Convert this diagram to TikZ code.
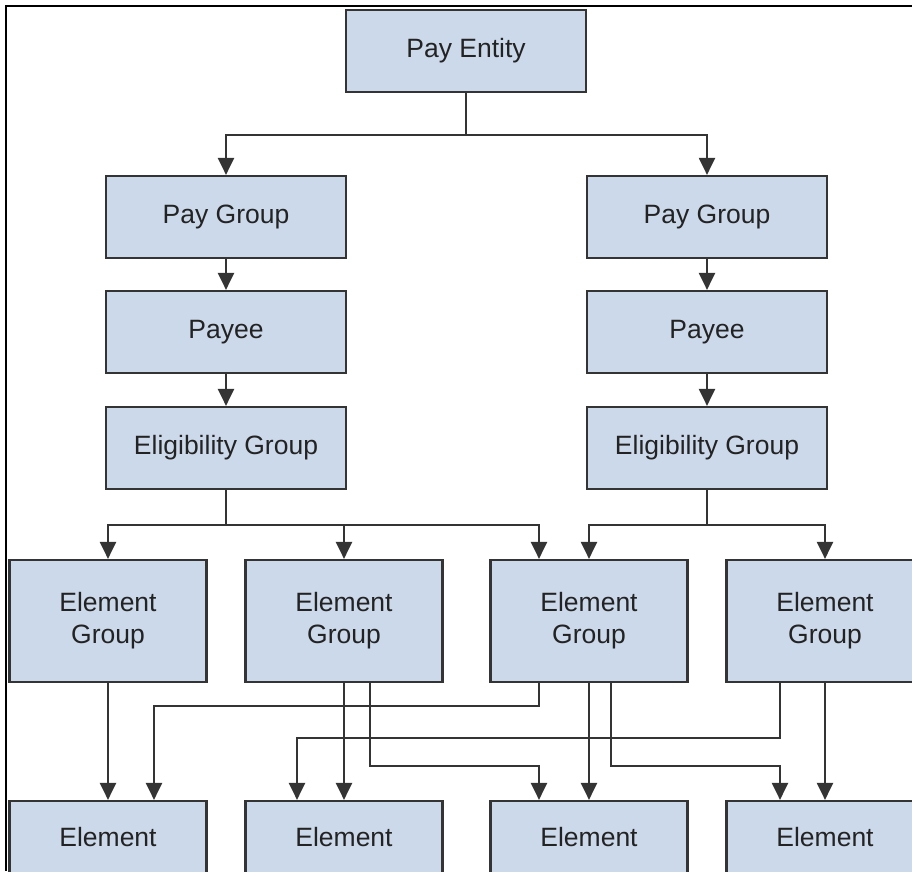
\documentclass[tikz,border=0pt]{standalone}
\usepackage{fontspec}
\setmainfont{Liberation Sans}
\usepackage{tikz}
\usetikzlibrary{arrows.meta, positioning, calc}

\definecolor{boxfill}{RGB}{204,217,234}
\definecolor{boxline}{RGB}{52,52,52}
\definecolor{textgray}{RGB}{35,35,35}

\begin{document}
\begin{tikzpicture}[
    x=1pt, y=-1pt,
    >={Triangle[length=17pt, width=16pt]},
    boxnode/.style={draw=boxline, line width=2.2pt, fill=boxfill, rectangle, text=textgray, font=\fontsize{26.5}{32}\selectfont, align=center, minimum width=240pt, minimum height=82pt, inner sep=0pt},
    elemnode/.style={boxnode, minimum width=197pt, minimum height=122pt},
    leafnode/.style={boxnode, minimum width=197pt, minimum height=72pt},
    flow/.style={->, line width=2.2pt, boxline},
    frameline/.style={line width=1.2pt, black}
]
    \useasboundingbox (0,0) rectangle (912,871);
    \draw[frameline] (6,871) -- (6,6) -- (912,6);

    \node[boxnode]  (PE)    at (466,51)    {Pay Entity};
    \node[boxnode]  (PG1)   at (226,217)   {Pay Group};
    \node[boxnode]  (PG2)   at (707,217)   {Pay Group};
    \node[boxnode]  (PY1)   at (226,332)   {Payee};
    \node[boxnode]  (PY2)   at (707,332)   {Payee};
    \node[boxnode]  (EL1)   at (226,448)   {Eligibility Group};
    \node[boxnode]  (EL2)   at (707,448)   {Eligibility Group};

    \node[elemnode] (EG1)   at (108,621)   {Element\\Group};
    \node[elemnode] (EG2)   at (344,621)   {Element\\Group};
    \node[elemnode] (EG3)   at (589,621)   {Element\\Group};
    \node[elemnode] (EG4)   at (825,621)   {Element\\Group};

    \node[leafnode] (E1)    at (108,837)   {Element};
    \node[leafnode] (E2)    at (344,837)   {Element};
    \node[leafnode] (E3)    at (589,837)   {Element};
    \node[leafnode] (E4)    at (825,837)   {Element};

    \draw[flow] (PE.south) -- ++(0,42) -| (PG1.north);
    \draw[flow] (PE.south) -- ++(0,42) -| (PG2.north);
    \draw[flow] (PG1) -- (PY1);
    \draw[flow] (PG2) -- (PY2);
    \draw[flow] (PY1) -- (EL1);
    \draw[flow] (PY2) -- (EL2);

    \draw[flow] (EL1.south) -- ++(0,35) -| (EG1.north);
    \draw[flow] (EL1.south) -- ++(0,35) -| (EG2.north);
    \draw[flow] (EL1.south) -- ++(0,35) -| ([xshift=-50pt]EG3.north);
    \draw[flow] (EL2.south) -- ++(0,35) -| (EG3.north);
    \draw[flow] (EL2.south) -- ++(0,35) -| (EG4.north);

    \draw[flow] (EG1) -- (E1);
    \draw[flow] (EG2) -- (E2);
    \draw[flow] (EG3) -- (E3);
    \draw[flow] (EG4) -- (E4);
    \draw[flow] ([xshift=-50pt]EG3.south) -- ++(0,23) -| ([xshift=46pt]E1.north);
    \draw[flow] ([xshift=26pt]EG2.south) -- ++(0,83) -| ([xshift=-50pt]E3.north);
    \draw[flow] ([xshift=22pt]EG3.south) -- ++(0,83) -| ([xshift=-45pt]E4.north);
    \draw[flow] ([xshift=-45pt]EG4.south) -- ++(0,55) -| ([xshift=-47pt]E2.north);

\end{tikzpicture}
\end{document}
